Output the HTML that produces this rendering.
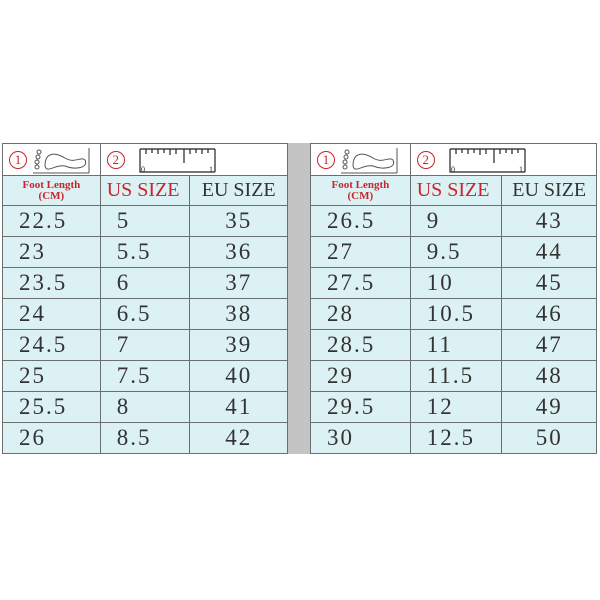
<!DOCTYPE html>
<html><head><style>
body{margin:0;width:600px;height:600px;background:#fff;position:relative;overflow:hidden;font-family:"Liberation Serif",serif}
.band{position:absolute;left:287px;top:143px;width:23px;height:311px;background:#c4c4c4}
table{position:absolute;top:143px;border-collapse:collapse;background:#dcf1f4}
td{border:1px solid #6a7070;padding:0;height:30px;font-size:23px;color:#333;letter-spacing:2px;vertical-align:middle}
tr.top td{background:#fff;height:31px}
tr.hd td{height:29px}
.l{padding-left:16px}
.c{text-align:center}
.red{color:#c8242c}
.fl{font-size:11px;color:#c8242c;font-weight:bold;text-align:center;line-height:11px;letter-spacing:0}
.hdt{font-size:20px;letter-spacing:0}
.circ{display:inline-block;width:16px;height:16px;border:1.5px solid #c8242c;border-radius:50%;color:#c8242c;font-size:13px;line-height:16px;text-align:center;letter-spacing:0;vertical-align:middle;margin-left:6px}
</style></head><body>
<div class="band"></div>
<table style="left:2px;width:286px">
<colgroup><col style="width:98px"><col style="width:90px"><col style="width:98px"></colgroup>
<tr class="top"><td><span class="circ">1</span><svg width="60" height="28" style="vertical-align:middle;margin-left:4px"><g fill="none" stroke="#555" stroke-width="1"><circle cx="8" cy="6" r="2"/><circle cx="7" cy="11" r="2"/><circle cx="6" cy="16" r="2"/><circle cx="6" cy="21" r="2"/><path d="M14 20 C14 6,24 6,34 12 C44 18,50 10,54 14 C58 22,44 24,34 20 C24 18,16 28,14 20Z"/><path d="M2 27 H58 M58 2 V27"/></g></svg></td>
<td colspan="2"><span class="circ">2</span><svg width="90" height="30" style="vertical-align:middle;margin-left:12px"><g stroke="#222" stroke-width="1.2" fill="none"><path d="M3 4 H78 M3 4 V27 H78 M78 4 V27"/><path d="M9 4v5M15 4v4M21 4v5M27 4v4M33 4v6M39 4v5M47 4v14M53 4v5M59 4v4M65 4v5M71 4v4"/></g><text x="4" y="27" font-size="8" fill="#222">0</text><text x="72" y="27" font-size="8" fill="#222">1</text></svg></td></tr>
<tr class="hd"><td class="fl">Foot Length<br>(CM)</td><td class="red hdt l" style="padding-left:6px">US SIZE</td><td class="c hdt">EU SIZE</td></tr>
<tr><td class="l">22.5</td><td class="l">5</td><td class="c">35</td></tr>
<tr><td class="l">23</td><td class="l">5.5</td><td class="c">36</td></tr>
<tr><td class="l">23.5</td><td class="l">6</td><td class="c">37</td></tr>
<tr><td class="l">24</td><td class="l">6.5</td><td class="c">38</td></tr>
<tr><td class="l">24.5</td><td class="l">7</td><td class="c">39</td></tr>
<tr><td class="l">25</td><td class="l">7.5</td><td class="c">40</td></tr>
<tr><td class="l">25.5</td><td class="l">8</td><td class="c">41</td></tr>
<tr><td class="l">26</td><td class="l">8.5</td><td class="c">42</td></tr>
</table>
<table style="left:310px;width:287px">
<colgroup><col style="width:100px"><col style="width:92px"><col style="width:95px"></colgroup>
<tr class="top"><td><span class="circ">1</span><svg width="60" height="28" style="vertical-align:middle;margin-left:4px"><g fill="none" stroke="#555" stroke-width="1"><circle cx="8" cy="6" r="2"/><circle cx="7" cy="11" r="2"/><circle cx="6" cy="16" r="2"/><circle cx="6" cy="21" r="2"/><path d="M14 20 C14 6,24 6,34 12 C44 18,50 10,54 14 C58 22,44 24,34 20 C24 18,16 28,14 20Z"/><path d="M2 27 H58 M58 2 V27"/></g></svg></td>
<td colspan="2"><span class="circ">2</span><svg width="90" height="30" style="vertical-align:middle;margin-left:12px"><g stroke="#222" stroke-width="1.2" fill="none"><path d="M3 4 H78 M3 4 V27 H78 M78 4 V27"/><path d="M9 4v5M15 4v4M21 4v5M27 4v4M33 4v6M39 4v5M47 4v14M53 4v5M59 4v4M65 4v5M71 4v4"/></g><text x="4" y="27" font-size="8" fill="#222">0</text><text x="72" y="27" font-size="8" fill="#222">1</text></svg></td></tr>
<tr class="hd"><td class="fl">Foot Length<br>(CM)</td><td class="red hdt l" style="padding-left:6px">US SIZE</td><td class="c hdt">EU SIZE</td></tr>
<tr><td class="l">26.5</td><td class="l">9</td><td class="c">43</td></tr>
<tr><td class="l">27</td><td class="l">9.5</td><td class="c">44</td></tr>
<tr><td class="l">27.5</td><td class="l">10</td><td class="c">45</td></tr>
<tr><td class="l">28</td><td class="l">10.5</td><td class="c">46</td></tr>
<tr><td class="l">28.5</td><td class="l">11</td><td class="c">47</td></tr>
<tr><td class="l">29</td><td class="l">11.5</td><td class="c">48</td></tr>
<tr><td class="l">29.5</td><td class="l">12</td><td class="c">49</td></tr>
<tr><td class="l">30</td><td class="l">12.5</td><td class="c">50</td></tr>
</table>
</body></html>
